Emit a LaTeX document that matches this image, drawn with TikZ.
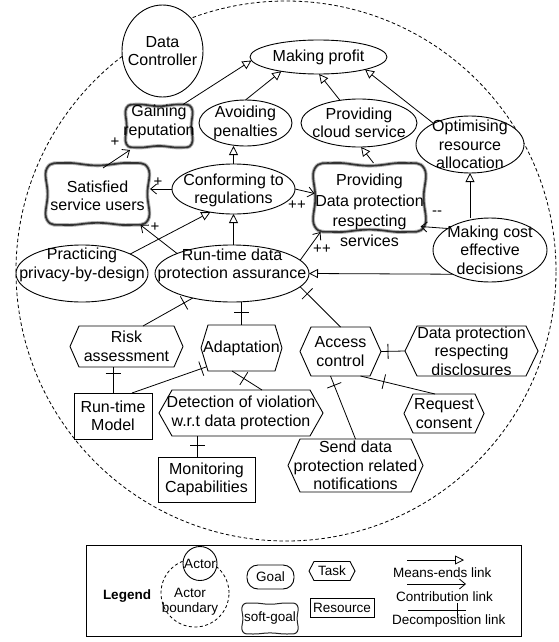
\documentclass[tikz,border=0pt]{standalone}
\usepackage{fontspec}
\setmainfont{Liberation Sans}
\usetikzlibrary{shapes.geometric, arrows.meta, calc, decorations.markings}

\newcommand\dgfont{\fontsize{16}{18.5}\selectfont}
\newcommand\lgfont{\fontsize{13.5}{15.5}\selectfont}
\newcommand\sgnfont{\fontsize{15}{16}\selectfont}

\tikzset{
  every node/.style={inner sep=0pt, outer sep=0pt},
  txt/.style={font=\dgfont, align=center},
  ltxt/.style={font=\lgfont, align=center},
  goalshape/.style={ellipse, draw, fill=white, line width=0.9pt},
  resbox/.style={rectangle, draw, fill=white, line width=0.9pt},
  anchorbox/.style={rectangle, draw=none},
  hexline/.style={draw, fill=white, line width=0.9pt},
  sgline/.style={draw=black!80, line width=1.7pt},
  thicksg/.style={draw=black!30, fill=white, line width=3.6pt, postaction={sgline}},
  thinsg/.style={draw=black!85, fill=white, line width=1pt},
  link/.style={line width=0.8pt},
  meansend/.style={link, -{Triangle[open, length=9pt, width=9pt]}},
  contrib/.style={link, -{Straight Barb[length=6pt, width=10pt]}},
  decomp/.style={link, decoration={markings, mark=at position #1 with {\draw[link] (0,-7.5pt) -- (0,7.5pt);}}, postaction={decorate}},
  sign/.style={font=\sgnfont},
}

% hexagonal task: [text style]{name}{x,y}{width}{height}{indent}{text}
\newcommand\hexnode[7][txt]{%
  \node[anchorbox, minimum width=#4, minimum height=#5] (#2) at (#3) {};
  \path[hexline] (#2.west) -- ([xshift=#6]#2.north west) -- ([xshift=-#6]#2.north east)
     -- (#2.east) -- ([xshift=-#6]#2.south east) -- ([xshift=#6]#2.south west) -- cycle;
  \node[#1] (#2-t) at (#2) {#7};}

% soft-goal cloud: [outline]{name}{x,y}{half width}{half height}{text style}{text}{text yshift}
\newcommand\cloudnode[8][thicksg]{%
  \node[anchorbox, minimum width=2*#4, minimum height=2*#5] (#2) at (#3) {};
  \begin{scope}[shift={(#3)}, xscale=#4, yscale=#5]
    \path[#1] plot[smooth cycle, tension=0.75] coordinates {(-0.96,-0.84) (-0.6,-1) (0,-0.92)
      (0.6,-1) (0.96,-0.84) (0.95,0) (0.96,0.84) (0.6,1) (0,0.93) (-0.6,1) (-0.96,0.84) (-0.95,0)};
  \end{scope}
  \node[#6, yshift=#8] (#2-t) at (#2) {#7};}

\begin{document}
\begin{tikzpicture}[x=1pt, y=-1pt]
\useasboundingbox (0,0) rectangle (558,642);
\fill[white] (0,0) rectangle (558,642);

% actor boundary
\node[circle, draw, line width=0.8pt, dash pattern=on 3.5pt off 2.5pt, minimum size=540pt] (bound) at (286,271) {};

% actor
\node[goalshape, minimum width=81pt, minimum height=92pt] (dc) at (162.5,51) {};
\node[txt] (dc-t) at (dc) {Data\\Controller};

% goals
\node[goalshape, minimum width=137pt, minimum height=34pt] (mp) at (318.5,57) {};
\node[txt] (mp-t) at (mp) {Making profit};
\node[goalshape, minimum width=93pt, minimum height=46pt] (ap) at (245.5,123) {};
\node[txt] (ap-t) at (ap) {Avoiding\\penalties};
\node[goalshape, minimum width=116pt, minimum height=48pt] (pcs) at (359,123) {};
\node[txt] (pcs-t) at (pcs) {Providing\\cloud service};
\node[goalshape, minimum width=108pt, minimum height=57pt] (ora) at (470,144.5) {};
\node[txt] (ora-t) at (ora) {Optimising\\resource\\allocation};
\node[goalshape, minimum width=123pt, minimum height=50pt] (cr) at (233.5,189) {};
\node[txt, yshift=-1.5pt] (cr-t) at (cr) {Conforming to\\regulations};
\node[goalshape, minimum width=114pt, minimum height=64pt] (mce) at (490,250) {};
\node[txt] (mce-t) at (mce) {Making cost\\effective\\decisions};
\node[goalshape, minimum width=132pt, minimum height=57pt] (ppd) at (82,273.5) {};
\node[txt, yshift=8.5pt] (ppd-t) at (ppd) {Practicing\\privacy-by-design};
\node[goalshape, minimum width=154pt, minimum height=57pt] (rt) at (232,273.5) {};
\node[txt, yshift=8pt] (rt-t) at (rt) {Run-time data\\protection assurance};

% soft-goals
\cloudnode{gr}{159,126}{34}{21.5}{txt}{Gaining\\reputation}{4pt}
\cloudnode{sat}{97.5,194}{52.5}{31}{txt}{Satisfied\\service users}{-2pt}
\cloudnode{pdp}{369.5,197.5}{57}{34.5}{txt, font=\fontsize{16}{20.3}\selectfont}{Providing\\Data protection\\respecting\\services}{-13pt}

% tasks
\hexnode{ra}{126.5,346.5}{113pt}{41pt}{9pt}{Risk\\assessment}
\hexnode{ad}{241.5,348}{81pt}{46pt}{7pt}{Adaptation}
\hexnode{ac}{340.5,351.5}{81pt}{49pt}{11pt}{Access\\control}
\hexnode{dprd}{471.5,351}{133pt}{50pt}{12pt}{Data protection\\respecting\\disclosures}
\hexnode{det}{241,413}{164pt}{46pt}{13pt}{Detection of violation\\w.r.t data protection}
\hexnode{rc}{444,413.5}{80pt}{39pt}{9pt}{Request\\consent}
\hexnode{snd}{355.5,465.5}{135pt}{53pt}{12pt}{Send data\\protection related\\notifications}

% resources
\node[resbox, txt, minimum width=78pt, minimum height=46pt] (rtm) at (113,416) {Run-time\\Model};
\node[resbox, txt, minimum width=97pt, minimum height=45pt] (mon) at (206.5,479.5) {Monitoring\\Capabilities};

% means-ends links
\draw[meansend] ([xshift=24pt]gr.north) -- (mp.183);
\draw[meansend] (ap.north) -- (mp.201);
\draw[meansend] (pcs.130) -- (mp.272);
\draw[meansend] (ora.150) -- (mp.345);
\draw[meansend] (cr.north) -- (cr.north |- ap.south);
\draw[meansend] ([xshift=4pt]pdp.north) -- (pcs.275);
\draw[meansend] (ora.south |- mce.north) -- (ora.south);
\draw[meansend] (ppd.22) -- (cr.225);
\draw[meansend] (cr.south |- rt.north) -- (cr.south);
\draw[meansend] (mce.213) -- (rt.east);

% contribution links
\draw[contrib] ([xshift=5.5pt, yshift=-5pt]sat.north) -- ([xshift=-29pt, yshift=-2.5pt]gr.south);
\draw[contrib] (cr.west) -- (cr.west -| sat.east);
\draw[contrib] (cr.east) -- ([xshift=2pt, yshift=4pt]pdp.west);
\draw[contrib] (rt.160) -- ([xshift=43pt]sat.south);
\draw[contrib] (rt.11) -- ([xshift=-49pt]pdp.south);
\draw[contrib] (mce.153) -- ([xshift=-6pt, yshift=-29pt]pdp.east);

\node[sign] (s1) at (115,142) {+};
\node[sign] (s2) at (158,182) {+};
\node[sign] (s3) at (297,205) {++};
\node[sign] (s4) at (155,227) {+};
\node[sign] (s5) at (322,249) {++};
\node[sign] (s6) at (437,213) {{-}{-}};

% decomposition links
\draw[decomp=10pt] (rt.212) -- ([xshift=16.5pt]ra.north);
\draw[decomp=10pt] (ad.north |- rt.south) -- (ad.north);
\draw[decomp=10pt] (rt.349) -- (ac.north);
\draw[decomp=7pt] (ac.east) -- (dprd.west);
\draw[decomp=24pt] ([xshift=20pt]ac.south) -- ([xshift=-9pt]rc.north);
\draw[decomp=10pt] ([xshift=-10pt]ac.south) -- (snd.north);
\draw[decomp=6pt] (rtm.north |- ra.south) -- (rtm.north);
\draw[decomp=5pt] ([xshift=5pt, yshift=4pt]ad.south west) -- ([xshift=19pt]rtm.north);
\draw[decomp=14pt] ([xshift=-9.5pt]ad.south) -- ([xshift=21pt]det.north);
\draw[decomp=9pt] ([xshift=-43.5pt]det.south) -- ([xshift=-9pt]mon.north);

% legend
\node[draw, line width=1pt, minimum width=435pt, minimum height=91pt, anchor=north west] (lgbox) at (86,545) {};
\node[ltxt, font=\lgfont\bfseries] (lgtitle) at (127,596) {Legend};
\node[circle, draw, line width=0.8pt, dash pattern=on 3pt off 2.5pt, minimum size=68pt] (lgbnd) at (195,593) {};
\node[ltxt] (lgbnd-t) at (190,601.5) {Actor\\boundary};
\node[circle, draw, fill=white, line width=0.9pt, minimum size=34pt] (lgactor) at (200,563.5) {};
\node[ltxt] (lgactor-t) at (lgactor) {Actor};
\node[draw, fill=white, line width=0.9pt, rounded corners=11pt, minimum width=47pt, minimum height=24pt, ltxt] (lggoal) at (270.5,577) {Goal};
\cloudnode[thinsg]{lgsoft}{270,618.5}{28.5}{15.5}{ltxt}{soft-goal}{0pt}
\hexnode[ltxt]{lgtask}{332,571}{46pt}{19pt}{5pt}{Task}
\node[resbox, ltxt, minimum width=64pt, minimum height=19pt] (lgres) at (342,607.5) {Resource};

\coordinate (me1) at (407,560);
\coordinate (me2) at (464,560);
\draw[meansend] (me1) -- (me2);
\node[ltxt, anchor=west] (me-t) at (393,573) {Means-ends link};
\coordinate (co1) at (407,584);
\coordinate (co2) at (466,584);
\draw[contrib] (co1) -- (co2);
\node[ltxt, anchor=west] (co-t) at (396,597) {Contribution link};
\coordinate (de1) at (408,610);
\coordinate (de2) at (466,610);
\draw[decomp=49pt] (de1) -- (de2);
\node[ltxt, anchor=west] (de-t) at (392,621) {Decomposition link};
\end{tikzpicture}
\end{document}
